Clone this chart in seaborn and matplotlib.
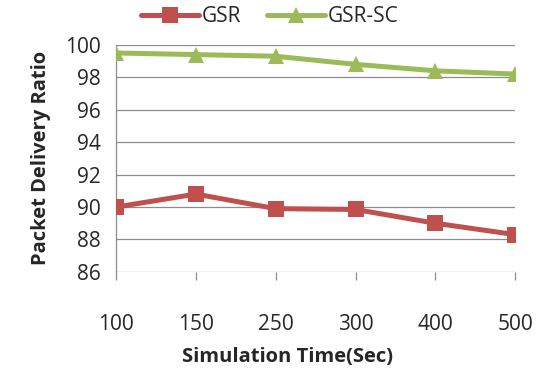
import matplotlib
matplotlib.use("Agg")
import matplotlib.pyplot as plt
import seaborn as sns
import pandas as pd

categories = ["100", "150", "250", "300", "400", "500"]
gsr = [90.0, 90.8, 89.9, 89.85, 89.0, 88.3]
gsr_sc = [99.5, 99.4, 99.3, 98.8, 98.4, 98.2]
series_names = ["GSR", "GSR-SC"]
yticks = [86, 88, 90, 92, 94, 96, 98, 100]

sns.set_theme(style="white")
plt.rcParams['font.family'] = ['Open Sans', 'DejaVu Sans']

pos = list(range(len(categories)))
df = pd.DataFrame({
    "x": pos * 2,
    "y": gsr + gsr_sc,
    "series": [series_names[0]] * len(pos) + [series_names[1]] * len(pos),
})

fig = plt.figure(figsize=(5.4, 3.74), dpi=100)
ax = fig.add_axes([0.215, 0.273, 0.739, 0.607])
palette = {"GSR": "#C0504D", "GSR-SC": "#9BBB59"}
sns.lineplot(data=df, x="x", y="y", hue="series", style="series",
             markers={"GSR": "s", "GSR-SC": "^"}, dashes=False,
             palette=palette, linewidth=3.6, markersize=11,
             markeredgewidth=0, ax=ax)

ax.set_ylim(86, 100)
ax.set_xlim(pos[0], pos[-1])
ax.set_yticks(yticks)
ax.set_yticklabels([str(t) for t in yticks], fontsize=15)
ax.set_xticks(pos)
ax.set_xticklabels(categories, fontsize=15)
ax.yaxis.grid(True, color="#8c8c8c", linewidth=0.9)
ax.set_axisbelow(True)
for s in ["top", "right", "bottom"]:
    ax.spines[s].set_visible(False)
ax.spines["left"].set_color("#8c8c8c")
ax.spines["left"].set_linewidth(0.9)
ax.spines["left"].set_zorder(0)
ax.tick_params(axis="x", which="both", bottom=True, length=6, width=0.9,
               color="#8c8c8c", pad=24)
ax.tick_params(axis="y", left=False, pad=5)
ax.set_xlabel("Simulation Time(Sec)", fontsize=14.5, fontweight="bold")
ax.xaxis.set_label_coords(0.43, -0.33)
ax.set_ylabel("Packet Delivery Ratio", fontsize=14.5, fontweight="bold", labelpad=10)

ax.legend(loc="lower center", bbox_to_anchor=(0.385, 1.04), ncol=2, frameon=False,
          fontsize=15, handlelength=2.8, columnspacing=1.2, handletextpad=0.15,
          borderaxespad=0)

fig.savefig("out.png", dpi=100)
